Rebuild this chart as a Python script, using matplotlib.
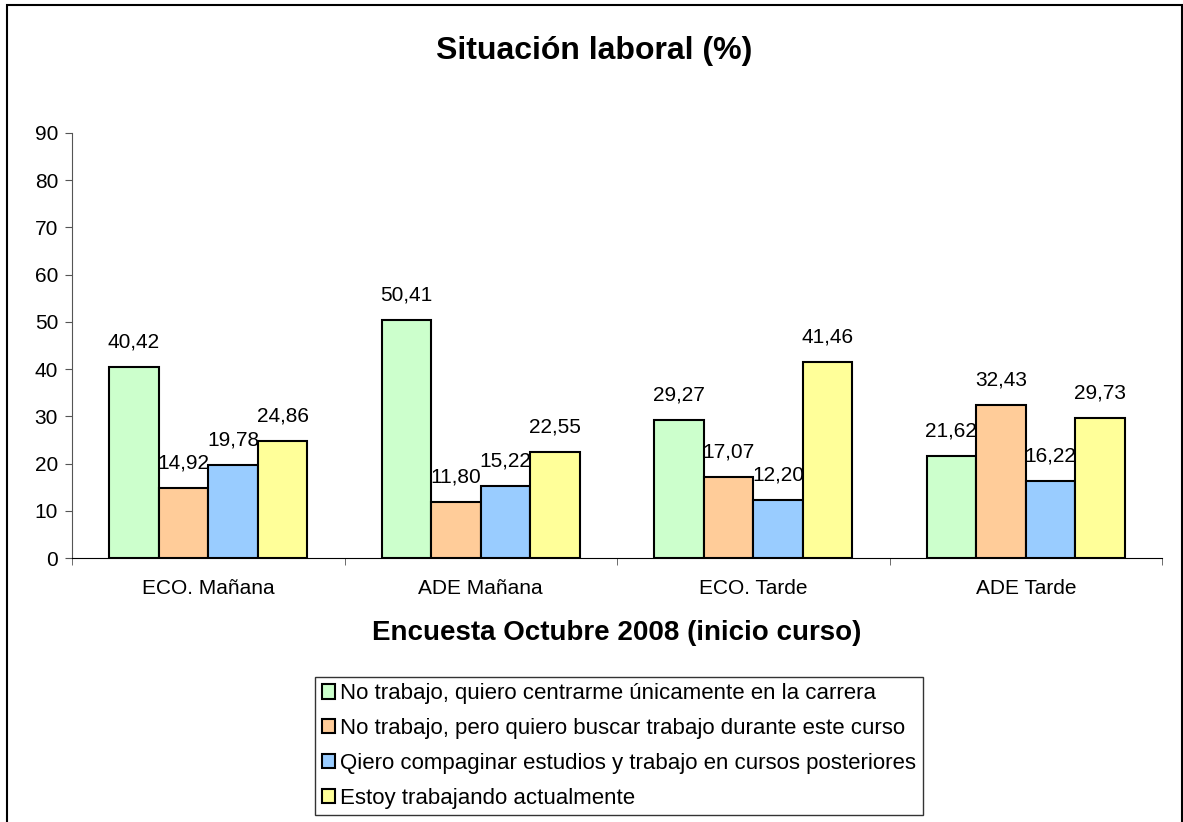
import numpy as np
import matplotlib.pyplot as plt
from matplotlib.patches import Rectangle

plt.rcParams['font.family'] = ['Liberation Sans', 'DejaVu Sans']

grupos = ['ECO. Mañana', 'ADE Mañana', 'ECO. Tarde', 'ADE Tarde']
series = ['No trabajo, quiero centrarme únicamente en la carrera',
          'No trabajo, pero quiero buscar trabajo durante este curso',
          'Qiero compaginar estudios y trabajo en cursos posteriores',
          'Estoy trabajando actualmente']
centrarse = [40.42, 50.41, 29.27, 21.62]
buscar = [14.92, 11.80, 17.07, 32.43]
compaginar = [19.78, 15.22, 12.20, 16.22]
trabajando = [24.86, 22.55, 41.46, 29.73]
colores = ['#CCFFCC', '#FFCC99', '#99CCFF', '#FFFF99']

valores = [centrarse, buscar, compaginar, trabajando]

fig = plt.figure(figsize=(11.83, 8.22), dpi=100)
ax = fig.add_axes([72/1183, 1-558/822, (1162-72)/1183, (558-133)/822])

x = np.arange(len(grupos))
w = 0.182
handles = []
for i, vals in enumerate(valores):
    pos = x + (i - 1.5) * w
    b = ax.bar(pos, vals, w, color=colores[i], edgecolor='black', linewidth=1.5,
               label=series[i], zorder=2)
    handles.append(b)
    for px, v in zip(pos, vals):
        ax.annotate(('%.2f' % v).replace('.', ','), (px, v), xytext=(0, 18),
                    textcoords='offset points', ha='center', va='center',
                    fontsize=15, zorder=3)

ax.set_xlim(-0.5, 3.5)
ax.set_ylim(0, 90)
ax.set_yticks(range(0, 91, 10))
ax.set_xticks(x)
ax.set_xticklabels(grupos, fontsize=15)
ax.tick_params(axis='x', length=0, pad=15)
ax.set_xticks(np.arange(-0.5, 4, 1), minor=True)
ax.tick_params(axis='x', which='minor', length=5, direction='out', color='#555555')
ax.tick_params(axis='y', labelsize=15, length=5, direction='out', color='#555555', pad=5)
for s in ['top', 'right']:
    ax.spines[s].set_visible(False)
ax.spines['left'].set_color('#555555')
ax.spines['bottom'].set_color('black')

fig.text(594/1183, 1-51/822, 'Situación laboral (%)', ha='center', va='center',
         fontsize=23, fontweight='bold')
fig.text(617/1183, 1-633/822, 'Encuesta Octubre 2008 (inicio curso)', ha='center',
         va='center', fontsize=20, fontweight='bold')

leg = fig.legend(handles=handles, loc='center', bbox_to_anchor=(619/1183, 1-746/822),
                 fontsize=16, frameon=True, fancybox=False, shadow=False,
                 handlelength=0.6, handleheight=0.6, handletextpad=0.2,
                 labelspacing=0.62, borderpad=0.3, borderaxespad=0)
leg.get_frame().set_edgecolor('black')
leg.get_frame().set_linewidth(1.0)

fig.patches.append(Rectangle((7/1183, -0.01), (1182-7)/1183, 1.01-5/822,
                             transform=fig.transFigure, fill=False,
                             edgecolor='black', linewidth=1.5, clip_on=False))

plt.savefig('out.png', dpi=100)
